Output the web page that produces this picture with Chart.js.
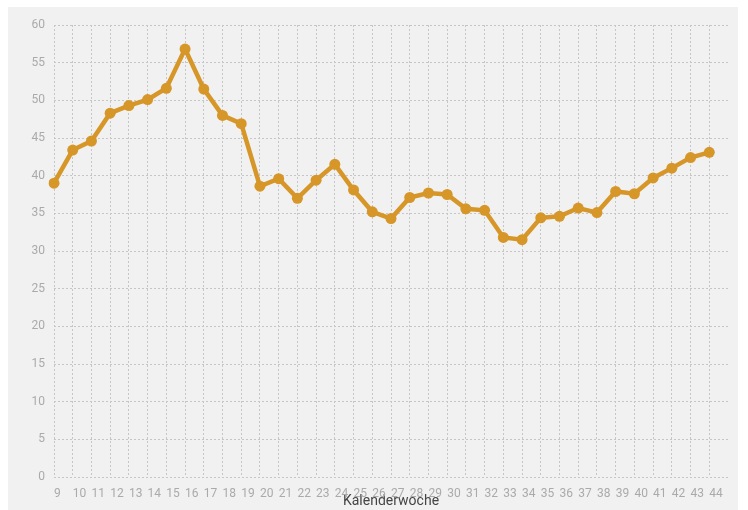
<!DOCTYPE html>
<html>
<head>
<meta charset="utf-8">
<script src="https://cdn.jsdelivr.net/npm/chart.js@4"></script>
<style>
  body { margin: 0; background: #fff; }
  #wrap { position: absolute; left: 8px; top: 7px; width: 730px; height: 503px; background: #f1f1f1; }
</style>
</head>
<body>
<div id="wrap"><canvas id="weekChart"></canvas></div>
<script>
// Kalenderwochen und Werte
const weeks = [9, 10, 11, 12, 13, 14, 15, 16, 17, 18, 19, 20, 21, 22, 23, 24, 25, 26,
  27, 28, 29, 30, 31, 32, 33, 34, 35, 36, 37, 38, 39, 40, 41, 42, 43, 44];
const values = [39.0, 43.4, 44.6, 48.3, 49.3, 50.1, 51.6, 56.8, 51.5, 48.0, 46.9, 38.6,
  39.6, 37.0, 39.4, 41.5, 38.1, 35.2, 34.3, 37.1, 37.7, 37.5, 35.6, 35.4,
  31.8, 31.5, 34.4, 34.6, 35.7, 35.1, 37.9, 37.6, 39.7, 41.0, 42.4, 43.1];
const yTicks = { min: 0, max: 60, step: 5 };

const lineColor = '#d69628';
const gridColor = '#c6c6c6';

function initWeekChart() {
  const ctx = document.getElementById('weekChart').getContext('2d');
  // one empty slot after the last week, like the reference grid
  const labels = weeks.map(String).concat(['']);
  return new Chart(ctx, {
    type: 'line',
    data: {
      labels: labels,
      datasets: [{
        data: values,
        borderColor: lineColor,
        backgroundColor: lineColor,
        borderWidth: 4.5,
        pointRadius: 5.5,
        pointBorderWidth: 0,
        pointBackgroundColor: lineColor,
        tension: 0,
        fill: false
      }]
    },
    options: {
      responsive: true,
      maintainAspectRatio: false,
      animation: false,
      layout: { padding: { top: 18, right: 8, left: 0, bottom: 0 } },
      plugins: {
        legend: { display: false },
        tooltip: { enabled: false }
      },
      scales: {
        x: {
          offset: false,
          afterFit: (s) => { s.height = 33; },
          grid: {
            drawTicks: false,
            color: (c) => (c.index === labels.length - 1 ? 'rgba(0,0,0,0)' : gridColor),
            lineWidth: 1
          },
          border: { display: false, dash: [2, 2] },
          ticks: {
            autoSkip: false,
            maxRotation: 0,
            align: 'start',
            padding: 10,
            color: '#aaaaaa',
            font: { family: 'Roboto', size: 12 }
          },
          title: {
            display: true,
            text: 'Kalenderwoche',
            color: '#444444',
            padding: { top: 0, bottom: 0 },
            font: { family: 'Roboto', size: 14 }
          }
        },
        y: {
          min: yTicks.min,
          max: yTicks.max,
          afterFit: (s) => { s.width = 46; },
          grid: { drawTicks: false, color: gridColor, lineWidth: 1 },
          border: { display: false, dash: [2, 2] },
          ticks: {
            stepSize: yTicks.step,
            padding: 9,
            color: '#aaaaaa',
            font: { family: 'Roboto', size: 12 }
          }
        }
      }
    }
  });
}

initWeekChart();
</script>
</body>
</html>
